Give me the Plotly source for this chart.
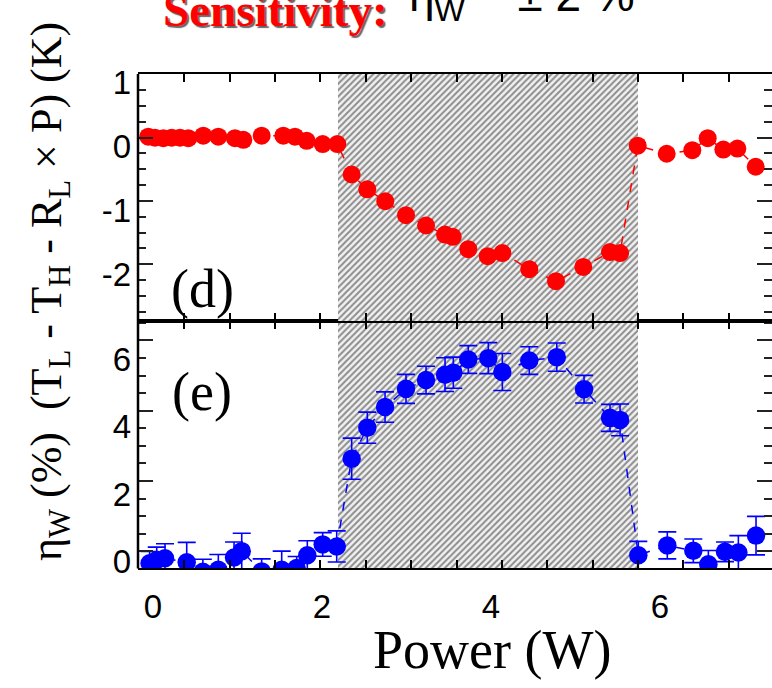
import plotly.graph_objects as go

# Upper panel: temperature residual (K) vs heater power (W)
red_x = [-0.056, 0.024, 0.122, 0.221, 0.320, 0.418, 0.595, 0.773, 0.970, 1.069,
         1.286, 1.542, 1.680, 1.819, 2.008, 2.181, 2.351, 2.536, 2.749, 2.994,
         3.231, 3.456, 3.547, 3.731, 3.961, 4.134, 4.453, 4.769, 5.092, 5.408,
         5.527, 5.736, 6.079, 6.382, 6.564, 6.749, 6.915, 7.132]
red_y = [0.156, 0.141, 0.132, 0.141, 0.141, 0.132, 0.171, 0.156, 0.132, 0.106,
         0.171, 0.171, 0.156, 0.091, 0.041, 0.041, -0.435, -0.667, -0.853, -1.071,
         -1.232, -1.374, -1.409, -1.602, -1.712, -1.662, -1.914, -2.102, -1.879, -1.647,
         -1.662, 0.015, -0.111, -0.056, 0.132, -0.045, -0.030, -0.314]

# Lower panel: efficiency eta_w (%) with uncertainties
blue_x = [-0.040, 0.044, 0.142, 0.399, 0.590, 0.773, 0.959, 1.050, 1.286, 1.523,
          1.700, 1.826, 2.008, 2.174, 2.351, 2.536, 2.746, 2.994, 3.231, 3.456,
          3.554, 3.731, 3.968, 4.134, 4.453, 4.778, 5.101, 5.408, 5.527, 5.743,
          6.086, 6.394, 6.572, 6.769, 6.927, 7.136]
blue_y = [-0.05, 0.05, 0.10, -0.02, -0.30, -0.24, 0.12, 0.31, -0.29, -0.24,
          -0.19, 0.19, 0.51, 0.45, 3.05, 3.97, 4.58, 5.12, 5.38, 5.54,
          5.60, 5.99, 6.03, 5.62, 5.96, 6.06, 5.11, 4.26, 4.20, 0.19,
          0.48, 0.32, -0.08, 0.29, 0.27, 0.77]
blue_err = [0.35, 0.38, 0.43, 0.59, 0.37, 0.45, 0.46, 0.53, 0.37, 0.55,
            0.34, 0.43, 0.35, 0.46, 0.61, 0.46, 0.45, 0.43, 0.41, 0.50,
            0.46, 0.41, 0.46, 0.55, 0.41, 0.42, 0.41, 0.40, 0.47, 0.41,
            0.40, 0.35, 0.41, 0.29, 0.50, 0.57]

# Power window where the effect is observed (hatched band)
band = [2.19, 5.74]

x_labels = [0, 2, 4, 6]
top_labels = [1, 0, -1, -2]
bot_labels = [0, 2, 4, 6]

x_range = [-0.1775, 7.325]
top_range = [-2.727, 1.136]
bot_range = [-0.201, 7.126]

x_minor = [0.370 + 0.537 * k for k in range(13)]
top_major = [0.141, -0.848, -1.838]
top_minor = [0.141 + 0.2471 * k for k in range(-12, 5)]
bot_major = [0.307, 2.394, 4.474, 6.56]
bot_minor = [0.307 + 0.5208 * k for k in range(-1, 14)]

dom_x = [138 / 772, 1.0]
dom_bot = [111 / 688, 366 / 688]
dom_top = [366 / 688, 621 / 688]

fig = go.Figure()

pattern = dict(shape="/", fgcolor="#8c8c8c", bgcolor="#f2f2f2", size=4.5,
               solidity=0.45, fillmode="replace")
for xa, ya, rng in (("x", "y", bot_range), ("x2", "y2", top_range)):
    fig.add_trace(go.Bar(
        x=[(band[0] + band[1]) / 2], y=[rng[1] - rng[0]], base=[rng[0]],
        width=[band[1] - band[0]], xaxis=xa, yaxis=ya,
        marker=dict(color="#f2f2f2", line=dict(width=0), pattern=pattern),
        showlegend=False, hoverinfo="skip"))

fig.add_trace(go.Scatter(
    x=red_x, y=red_y, xaxis="x2", yaxis="y2", mode="lines+markers",
    line=dict(color="#ff0000", width=1.5, dash="dash"),
    marker=dict(color="#ff0000", size=18), showlegend=False))

fig.add_trace(go.Scatter(
    x=blue_x, y=blue_y, xaxis="x", yaxis="y", mode="lines+markers",
    line=dict(color="#0000ff", width=1.5, dash="dash"),
    marker=dict(color="#0000ff", size=18.5),
    error_y=dict(type="data", array=blue_err, color="#0000ff", thickness=1.6, width=9),
    showlegend=False))

# empty traces so the label-only overlay axes are drawn
for ya in ("y3", "y4"):
    fig.add_trace(go.Scatter(x=[None], y=[None], xaxis="x" if ya == "y3" else "x2",
                             yaxis=ya, mode="markers", showlegend=False,
                             hoverinfo="skip"))

tick_font = dict(family="Liberation Sans, Arial, sans-serif", size=33, color="black")

xcommon = dict(range=x_range, domain=dom_x, showgrid=False, zeroline=False,
               showline=True, linecolor="black", linewidth=2, mirror="ticks",
               ticks="inside", ticklen=0, tickcolor="black",
               minor=dict(tickmode="array", tickvals=x_minor, ticks="inside",
                          ticklen=8, tickwidth=2, tickcolor="black", showgrid=False))

ylab_common = dict(showgrid=False, zeroline=False, showline=False, ticks="",
                   tickmode="array", tickfont=tick_font, ticklabelstandoff=6,
                   side="left")

fig.update_layout(
    width=772, height=688,
    margin=dict(l=0, r=0, t=0, b=0),
    paper_bgcolor="white", plot_bgcolor="white",
    barmode="overlay", bargap=0,
    xaxis=dict(xcommon, anchor="y", tickmode="array", tickvals=x_labels,
               ticktext=[str(v) for v in x_labels], tickfont=tick_font, ticklabelstandoff=8),
    xaxis2=dict(xcommon, anchor="y2", matches="x", showticklabels=False),
    yaxis=dict(domain=dom_bot, range=bot_range, anchor="x", showgrid=False,
               zeroline=False, showline=False, mirror="ticks", ticks="inside",
               tickmode="array", tickvals=bot_major, ticklen=15, tickwidth=2,
               tickcolor="#222", showticklabels=False,
               minor=dict(tickmode="array", tickvals=bot_minor, ticks="inside",
                          ticklen=8, tickwidth=2, tickcolor="#222", showgrid=False)),
    yaxis2=dict(domain=dom_top, range=top_range, anchor="x2", showgrid=False,
                zeroline=False, showline=False, mirror="ticks", ticks="inside",
                tickmode="array", tickvals=top_major, ticklen=15, tickwidth=2,
                tickcolor="#222", showticklabels=False,
                minor=dict(tickmode="array", tickvals=top_minor, ticks="inside",
                           ticklen=8, tickwidth=2, tickcolor="#222", showgrid=False)),
    yaxis3=dict(ylab_common, domain=dom_bot, range=bot_range, overlaying="y",
                anchor="x", tickvals=bot_labels, ticktext=[str(v) for v in bot_labels]),
    yaxis4=dict(ylab_common, domain=dom_top, range=top_range, overlaying="y2",
                anchor="x2", tickvals=top_labels, ticktext=[str(v) for v in top_labels]),
)

# left frame edge
fig.add_shape(type="line", xref="paper", yref="paper",
              x0=dom_x[0], x1=dom_x[0], y0=dom_bot[0], y1=dom_top[1],
              line=dict(color="black", width=2.5))

serif = "Liberation Serif, Times New Roman, serif"

fig.add_annotation(text="(d)", x=0.59, y=-2.22, xref="x2", yref="y2",
                   xanchor="center", yanchor="middle", showarrow=False,
                   font=dict(family=serif, size=54, color="black"))
fig.add_annotation(text="(e)", x=0.58, y=5.03, xref="x", yref="y",
                   xanchor="center", yanchor="middle", showarrow=False,
                   font=dict(family=serif, size=54, color="black"))

fig.add_annotation(text="Power (W)", x=492 / 772, y=1 - 661 / 688,
                   xref="paper", yref="paper", xanchor="center", yanchor="middle",
                   showarrow=False, font=dict(family=serif, size=54, color="black"))

fig.add_annotation(
    text="η<sub>W</sub> (%)  (T<sub>L</sub> - T<sub>H</sub> - R<sub>L</sub> × P) (K)",
    textangle=-90, x=49 / 772, y=1 - 292 / 688, xref="paper", yref="paper",
    xanchor="center", yanchor="middle",
    showarrow=False, font=dict(family=serif, size=44, color="black"))

# headline, mostly above the page edge
fig.add_annotation(
    text="<b>Sensitivity:</b>", x=275 / 772, y=1 - 30 / 688, xref="paper",
    yref="paper", xanchor="center", yanchor="bottom", showarrow=False,
    font=dict(family=serif, size=47, color="#ff0000", shadow="2px 2px 1px #666"))
fig.add_annotation(
    text="η<sub>W</sub> ~ ± 2 %", x=522 / 772, y=1 - 22 / 688, xref="paper",
    yref="paper", xanchor="center", yanchor="bottom", showarrow=False,
    font=dict(family="Liberation Sans, Arial, sans-serif", size=46, color="black"))

fig.write_html("out.html")
